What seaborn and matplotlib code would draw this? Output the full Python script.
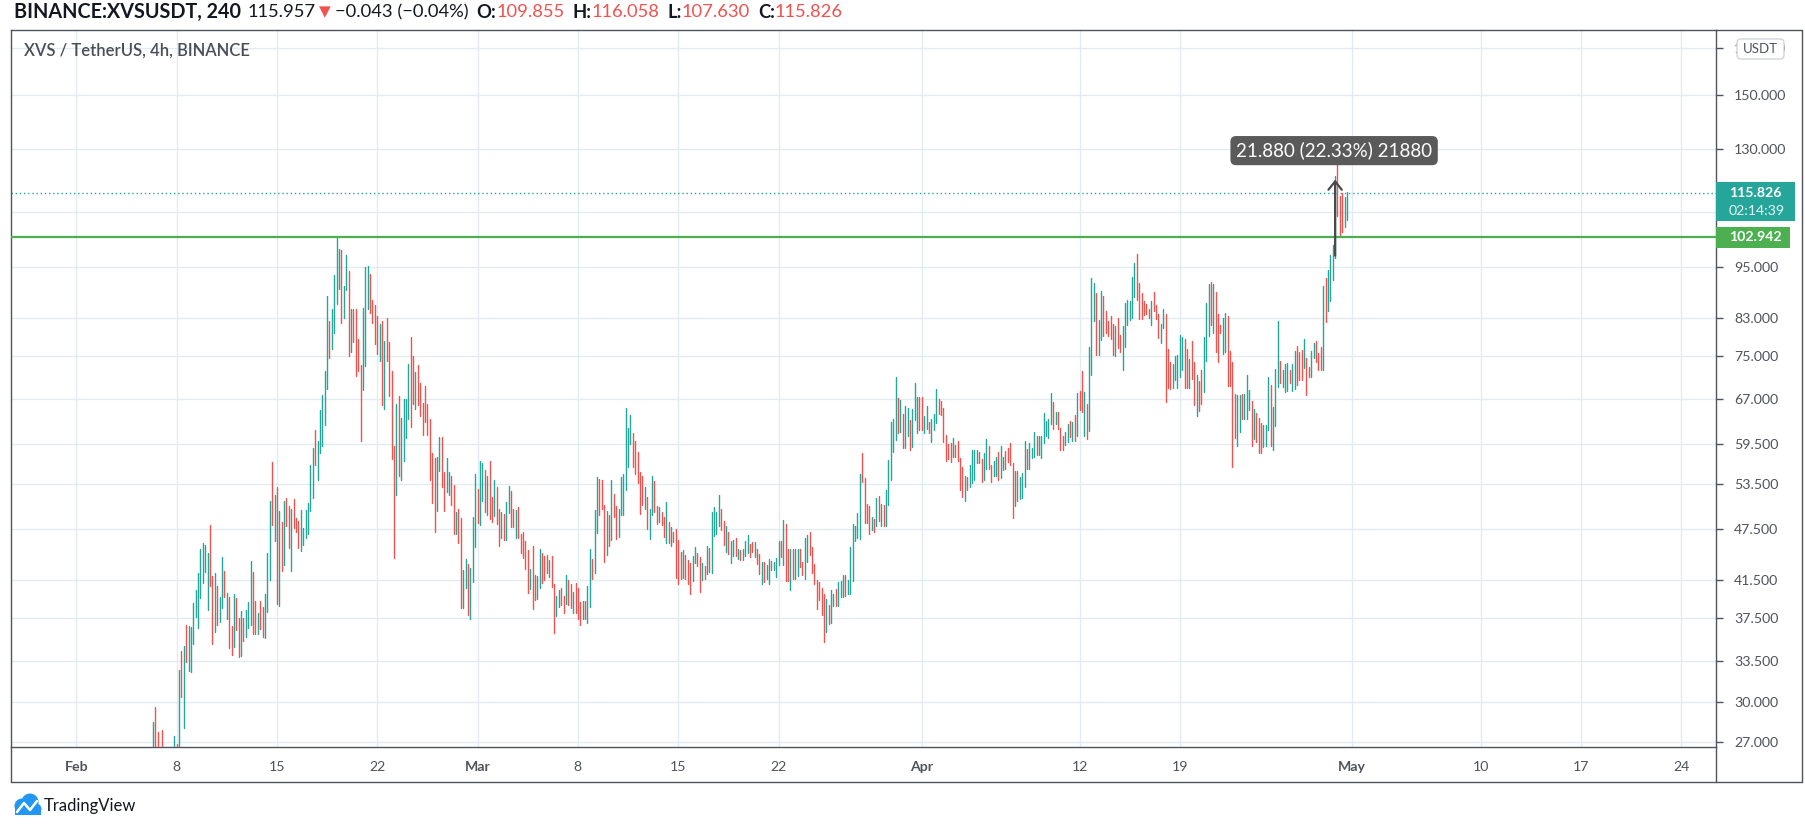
import numpy as np
import pandas as pd
import matplotlib
matplotlib.use("Agg")
import matplotlib.pyplot as plt
from matplotlib.patches import Rectangle, FancyBboxPatch, Circle
from matplotlib.lines import Line2D
from matplotlib.ticker import FixedLocator, FuncFormatter, NullLocator
from matplotlib.transforms import IdentityTransform
import seaborn as sns

nan = float("nan")

# ---------------- data (4h bars) ----------------
FIRST_BAR = "2021-02-06 08:00"
BAR_FREQ = "4h"

seg1_high = [28.5, 29.6, 27.7, nan, 27.9, nan, nan, nan, nan, 27.4, 26.85,
             32.7, 34.4, 34.8, 36.8, 36.7, 36.6, 39.0, 40.4, 42.3, 45.0,
             45.7, 45.5, 44.6, 48.0, 41.9, 42.3, 40.8, 39.6, 44.1, 42.5,
             40.1, 39.6, 36.7, 40.0, 39.5, 37.5, 38.2, 37.5, 38.3, 39.1,
             43.6, 42.4, 39.2, 38.0, 39.2, 38.6, 40.0, 44.5, 51.1, 56.7,
             52.0, 53.1, 49.8, 48.4, 51.1, 51.6, 50.5, 50.1, 51.4, 48.9,
             48.5, 49.9, 47.6, 49.9, 50.8, 56.3, 58.8, 61.8, 59.9, 65.1,
             67.7, 72.2, 88.1, 82.4, 85.1, 93.1, 102.9, 99.8, 99.4, 90.4,
             98.1, 94.1, 85.1, 85.1, 85.1, 78.6, 73.3, 85.2, 95.0, 95.4,
             93.3, 87.1, 86.0, 83.4, 81.7, 82.5, 78.2, 83.0, 78.0]
seg1_low = [26.3, 26.0, 26.0, nan, 25.5, nan, nan, nan, nan, 25.5, 25.0,
            26.5, 30.4, 28.0, 33.4, 32.6, 32.5, 35.0, 37.6, 36.5, 39.5,
            41.1, 42.4, 38.3, 40.8, 35.0, 36.1, 36.8, 37.1, 38.5, 39.6,
            37.4, 34.6, 34.0, 34.7, 36.3, 33.8, 33.9, 35.3, 35.7, 36.5,
            36.8, 35.9, 35.9, 35.9, 36.4, 35.7, 35.6, 38.1, 41.5, 48.0,
            46.0, 38.9, 38.7, 42.5, 43.2, 47.9, 45.2, 42.5, 47.6, 47.1,
            45.2, 44.8, 45.5, 46.3, 46.8, 49.8, 51.5, 56.2, 54.1, 58.0,
            59.2, 62.6, 68.9, 74.8, 76.6, 79.9, 86.1, 89.8, 82.0, 83.0,
            89.5, 75.1, 75.9, 78.0, 71.3, 72.1, 60.0, 68.7, 73.2, 85.1,
            84.1, 82.0, 77.5, 75.5, 74.2, 66.0, 65.2, 74.2, 67.6]
seg1_dir = ("grrgrgggggr" "grgrgggggg" "gggrrgrggr" "grrgrrgrgg" "grrgrrgggr"
            "grgrgrrgrr" "rggggggrgg" "gggrggggrg" "grgrrrrggg" "rrrrgrgrr")

seg2_high = [72.2, 59.2, 66.2, 67.5, 63.8, 67.0, 67.0, 73.6, 78.9, 75.1,
             71.9, 73.3, 69.9, 66.3, 69.4, 66.2, 63.6, 58.1, 57.3, 57.5,
             60.6, 60.6, 55.2, 57.3, 55.2, 54.7, 53.4, 49.6, 50.1, 48.9,
             42.6, 43.8, 43.3, 42.8, 49.0, 55.0, 52.8, 56.9, 56.6, 55.5,
             54.6, 56.9, 51.7, 54.0, 53.0, 50.0, 49.7, 49.4, 51.0, 53.2,
             52.5, 50.1, 49.9, 50.3, 46.8, 47.1, 46.0, 44.9, 42.7, 45.4,
             42.0, 41.9, 45.0, 44.6, 44.2, 44.3, 43.7, 44.2, 41.0, 39.8,
             40.4, 40.6, 39.7, 42.0, 41.5, 41.0, 40.2, 41.1, 40.6, 39.1,
             39.2, 39.2, 40.8, 45.0, 43.9, 49.9, 54.5, 54.2, 54.1, 50.6,
             49.8, 49.3, 54.1, 52.1, 50.5, 50.0, 54.5, 55.0, 65.5, 62.1,
             64.2, 61.2, 60.0, 58.2, 55.2, 54.7, 53.0, 51.7]
seg2_low = [57.2, 44.0, 52.0, 54.6, 54.0, 56.8, 60.5, 63.6, 62.2, 66.2,
            65.2, 65.9, 64.1, 60.9, 63.0, 60.9, 54.0, 50.9, 47.1, 49.8,
            55.4, 53.1, 49.8, 52.4, 52.0, 50.6, 46.8, 46.8, 45.7, 38.5,
            38.5, 40.6, 37.8, 37.4, 41.3, 45.3, 48.2, 48.0, 51.1, 49.6,
            49.3, 48.8, 48.4, 49.2, 48.1, 45.4, 46.4, 46.1, 46.1, 49.5,
            47.7, 47.7, 46.4, 46.4, 44.5, 44.0, 42.7, 40.1, 40.5, 38.4,
            39.3, 39.4, 40.6, 41.2, 41.5, 42.3, 41.8, 40.7, 36.0, 37.7,
            38.6, 38.8, 38.0, 38.9, 38.8, 38.5, 38.0, 38.0, 37.4, 36.8,
            37.4, 37.4, 37.0, 38.6, 41.6, 42.3, 47.0, 49.3, 50.0, 43.5,
            44.3, 45.4, 46.1, 49.0, 46.2, 46.5, 49.3, 49.3, 52.7, 56.0,
            59.4, 56.0, 55.0, 53.7, 49.4, 50.6, 50.0, 47.5]
seg2_dir = ("rrgrggggrr" "grrrrrrrrg" "grrggrrgrr" "ggrgggrggr" "grrgrrgrgg"
            "rrgrrrrrgr" "rggrrrgrrg" "grrgrrgrrr" "grggrggrrr" "grgrrggggg"
            "grrrrrgr")

seg3_high = [50.0, 54.7, 53.9, 50.4, 50.3, 49.7, 49.0, 51.0, 48.4, 47.7,
             47.1, 47.5, 46.1, 44.7, 44.9, 44.3, 43.7, 43.4, 44.2, 45.3,
             44.5, 44.1, 43.4, 43.0, 45.4, 45.2, 49.7, 50.3, 49.6, 51.9,
             50.1, 48.5, 47.9, 47.1, 46.0, 46.1, 46.4, 45.0, 44.9, 45.0,
             46.0, 46.7, 45.6, 45.9, 45.9, 45.0, 44.4, 43.5, 43.5, 43.1,
             43.8, 43.6, 43.5, 44.0, 46.0, 46.0, 48.6, 48.1, 45.0, 45.0,
             45.0, 45.0, 45.0, 45.0, 43.5, 46.3, 46.7, 47.1, 45.3, 43.3,
             41.5, 41.3, 40.6, 40.0, 39.4, 38.8, 40.4, 40.0, 40.5, 41.3,
             41.4, 42.0, 42.0, 41.5, 45.3, 48.1, 47.8, 49.5, 55.0, 58.0,
             54.4, 50.7, 50.5, 49.0, 48.8, 51.5, 51.8, 50.7, 50.6, 52.6,
             57.0, 63.1, 63.5, 71.0]
seg3_low = [46.2, 49.3, 49.7, 48.1, 48.4, 48.0, 46.5, 45.7, 45.7, 45.4,
            45.9, 41.7, 41.0, 41.6, 41.7, 41.6, 41.0, 40.0, 41.4, 43.4,
            43.0, 40.2, 41.5, 41.6, 42.1, 42.4, 42.2, 46.6, 46.8, 47.9,
            47.4, 45.5, 44.7, 44.4, 43.4, 44.2, 44.2, 43.8, 43.7, 43.7,
            44.2, 44.6, 44.1, 44.7, 44.1, 43.3, 42.1, 41.0, 41.3, 41.6,
            41.0, 42.6, 42.6, 41.8, 43.1, 44.1, 43.1, 41.4, 41.4, 40.4,
            41.6, 41.6, 41.9, 42.9, 42.0, 41.6, 43.5, 44.3, 42.2, 41.0,
            38.4, 39.3, 37.8, 35.2, 36.1, 36.9, 37.0, 38.7, 38.7, 38.7,
            39.6, 39.6, 39.8, 40.0, 40.0, 41.4, 46.0, 46.3, 46.2, 53.8,
            48.3, 48.3, 46.8, 47.3, 47.1, 47.9, 48.5, 47.8, 47.8, 47.8,
            50.6, 54.0, 58.3, 60.1]
seg3_dir = ("ggrrgrrgrg" "rrrrgrrrgg" "rrgrgrgggg" "rrgrggrgrg" "ggrrgrrgrg"
            "grgggrgrrg" "rggrrggrrr" "rrrrgrggrg" "ggrggggggr" "rrrgrgrgrg"
            "gggg")

seg4_high = [67.1, 66.8, 64.4, 65.7, 65.4, 63.3, 65.3, 70.0, 67.4, 67.4,
             67.4, 64.0, 65.8, 63.1, 63.6, 64.4, 68.9, 67.0, 66.7, 65.4,
             60.9, 59.4, 59.7, 60.4, 59.3, 59.9, 57.3, 56.0, 54.6, 54.5,
             56.3, 58.6, 58.6, 58.6, 58.3, 57.2, 58.0, 60.3, 59.2, 56.2,
             56.9, 57.5, 58.3, 59.2, 57.5, 58.4, 58.8, 59.6, 56.6, 55.3,
             55.3, 54.5, 55.1, 60.0, 58.7, 59.6, 58.9, 61.4, 60.8, 60.7,
             60.8, 64.5, 63.2, 63.6, 68.0, 66.5, 64.8, 64.8, 62.0, 60.7,
             61.4, 62.7, 63.2, 63.1, 64.2, 68.1, 68.4, 72.1, 68.2, 66.2,
             76.9, 92.3, 91.2, 88.7, 82.7, 89.3, 88.1, 84.7, 82.4, 83.4,
             81.7, 81.3, 83.0, 79.5, 81.3, 86.4, 87.1, 86.8, 92.6, 96.2,
             98.5, 91.2, 88.7, 86.9, 86.2, 85.0, 86.8, 89.1, 86.0, 84.0]
seg4_low = [61.3, 61.4, 58.8, 58.8, 60.7, 58.5, 59.0, 63.3, 61.2, 61.8,
            61.7, 61.3, 61.9, 61.2, 59.8, 61.7, 62.9, 64.4, 64.3, 59.8,
            56.8, 57.2, 56.7, 57.5, 57.5, 56.9, 52.7, 51.7, 51.1, 52.7,
            53.0, 53.6, 54.0, 56.5, 56.5, 53.8, 54.0, 55.7, 55.6, 53.8,
            54.6, 54.7, 54.0, 54.4, 55.5, 55.6, 56.7, 56.2, 48.9, 50.5,
            51.1, 51.4, 51.5, 53.0, 55.6, 55.7, 57.3, 57.5, 57.8, 57.7,
            57.3, 59.6, 60.8, 60.4, 62.7, 61.9, 62.7, 61.9, 58.6, 58.5,
            59.3, 59.8, 60.6, 59.9, 60.0, 60.7, 65.0, 64.8, 60.8, 60.3,
            61.5, 71.5, 82.3, 75.2, 75.3, 78.4, 79.2, 79.9, 79.1, 78.5,
            75.3, 75.0, 76.8, 75.9, 72.3, 77.0, 81.5, 82.6, 83.0, 87.9,
            87.1, 82.8, 82.8, 83.8, 83.9, 83.0, 81.6, 84.7, 82.8, 78.8]
seg4_dir = ("rgrggrgggr" "rggrgggrrr" "rrrgrrrrgr" "ggggrrggrr" "ggrggrrrrg"
            "rgggrgggrg" "gggggrgrrr" "ggrgrgrrgr" "gggrggrrrr" "rgrrgggggg"
            "rrrrrrgrrr")

seg5_high = [81.8, 85.0, 84.0, 76.5, 74.0, 73.6, 75.0, 75.2, 79.3, 79.0,
             78.5, 76.5, 74.6, 78.1, 73.9, 71.5, 70.2, 72.4, 79.0, 86.5,
             91.0, 91.3, 90.9, 89.0, 84.0, 81.5, 83.1, 84.2, 83.6, 76.1,
             74.0, 67.9, 67.8, 67.7, 67.9, 67.9, 71.5, 68.6, 66.7, 65.2,
             64.5, 63.7, 62.9, 62.5, 62.5, 71.0, 69.6, 65.6, 72.6, 82.4,
             74.1, 72.4, 73.5, 73.7, 72.4, 73.5, 76.1, 77.2, 75.8, 76.3,
             78.5, 74.7, 73.0, 76.1, 77.7, 78.2, 75.6, 77.0, 90.4, 92.3,
             94.4, 98.2, 100.8, 121.0, 126.0, 114.8, 115.8, 114.5, 116.058]
seg5_low = [77.7, 80.9, 66.5, 69.0, 68.9, 69.0, 70.5, 69.0, 71.0, 72.4,
            69.0, 69.0, 69.0, 70.6, 65.9, 64.1, 64.9, 66.2, 68.2, 74.1,
            79.2, 81.6, 79.8, 75.8, 74.0, 79.8, 75.4, 75.8, 69.3, 69.3,
            55.9, 60.4, 59.1, 61.4, 63.6, 63.5, 63.5, 65.1, 59.1, 60.3,
            59.8, 58.0, 58.0, 59.0, 59.1, 61.8, 59.1, 58.6, 62.4, 69.1,
            69.9, 69.1, 68.2, 68.4, 69.9, 68.4, 68.9, 69.6, 70.5, 70.5,
            72.7, 67.8, 71.0, 71.0, 74.7, 74.0, 72.3, 72.3, 72.3, 82.2,
            84.6, 86.8, 91.8, 97.5, 108.7, 103.3, 104.2, 105.7, 107.63]
seg5_dir = ("ggrrrggggg" "rrgrrgrrgg" "grgrrrggrr" "rrggrgggrg" "rrrgggrggg"
            "rgggrggrrr" "grrggrrrgr" "ggggrrrgg")

# annotations / labels
ticker_label = "BINANCE:XVSUSDT, 240"
last_value = "115.957"
change_label = "\u22120.043 (\u22120.04%)"
ohlc_labels = ["O", "H", "L", "C"]
ohlc_values = [109.855, 116.058, 107.630, 115.826]
pane_title = "XVS / TetherUS, 4h, BINANCE"
LAST_PRICE = 115.826
COUNTDOWN = "02:14:39"
LEVEL = 102.942
MEASURE_TIME = "2021-04-29 20:00"
MEASURE_FROM = 97.98
MEASURE_TO = 119.86
MEASURE_LABEL = "21.880 (22.33%) 21880"
price_ticks = [27, 30, 33.5, 37.5, 41.5, 47.5, 53.5, 59.5, 67, 75, 83, 95,
               110, 130, 150, 170]
hidden_price_labels = {110}          # covered by the last-price badge
date_ticks = ["2021-02-01", "2021-02-08", "2021-02-15", "2021-02-22",
              "2021-03-01", "2021-03-08", "2021-03-15", "2021-03-22",
              "2021-04-01", "2021-04-12", "2021-04-19", "2021-05-01",
              "2021-05-10", "2021-05-17", "2021-05-24"]
date_labels = ["Feb", "8", "15", "22", "Mar", "8", "15", "22", "Apr", "12",
               "19", "May", "10", "17", "24"]
month_labels = {"Feb", "Mar", "Apr", "May"}
X_START = "2021-01-27 10:40"
X_END = "2021-05-26 09:50"
Y_MIN, Y_MAX = 26.64, 178.2

# ---------------- style ----------------
GREEN = "#26a69a"
RED = "#ef5350"
LEVEL_GREEN = "#4caf50"
AXIS = "#50535e"
TEXT = "#50535e"
DARK = "#131722"
GRID = "#e1ebf2"

W, H = 1805, 826
sns.set_theme(style="white")
plt.rcParams["font.family"] = ["Lato", "DejaVu Sans"]
plt.rcParams["axes.unicode_minus"] = True

fig = plt.figure(figsize=(W / 100, H / 100), dpi=100)
fig.patch.set_facecolor("white")
PL, PR, PT, PB = 11, 1716, 30, 747
ax = fig.add_axes([PL / W, 1 - PB / H, (PR - PL) / W, (PB - PT) / H])
ax.set_facecolor("white")
ax.set_yscale("log")

high = seg1_high + seg2_high + seg3_high + seg4_high + seg5_high
low = seg1_low + seg2_low + seg3_low + seg4_low + seg5_low
dirs = list(seg1_dir + seg2_dir + seg3_dir + seg4_dir + seg5_dir)
times = pd.date_range(FIRST_BAR, periods=len(high), freq=BAR_FREQ)
bars = pd.DataFrame({"time": times, "high": high, "low": low, "dir": dirs,
                     "bar": np.arange(len(high))}).dropna()
long = bars.melt(id_vars=["time", "dir", "bar"], value_vars=["low", "high"],
                 var_name="end", value_name="price")

sns.lineplot(data=long, x="time", y="price", units="bar", estimator=None,
             hue="dir", palette={"g": GREEN, "r": RED}, legend=False,
             linewidth=1.0, sort=False, ax=ax, zorder=3)

ax.set_xlabel("")
ax.set_ylabel("")
ax.set_xlim(pd.Timestamp(X_START), pd.Timestamp(X_END))
ax.set_ylim(Y_MIN, Y_MAX)

# y axis
ax.yaxis.set_major_locator(FixedLocator(price_ticks))
ax.yaxis.set_minor_locator(NullLocator())
ax.yaxis.set_major_formatter(FuncFormatter(
    lambda v, p: "" if round(v, 3) in hidden_price_labels else f"{v:.3f}"))
ax.yaxis.tick_right()
ax.tick_params(axis="y", which="major", direction="out", length=5, width=1,
               color=AXIS, labelcolor=TEXT, labelsize=10.2, pad=8)
# x axis
ax.set_xticks(pd.to_datetime(date_ticks))
ax.set_xticklabels(date_labels)
ax.tick_params(axis="x", which="major", direction="out", length=5, width=1,
               color=AXIS, labelcolor=TEXT, labelsize=10.2, pad=5)
ax.tick_params(axis="x", which="minor", length=0)
for lbl in ax.get_xticklabels():
    if lbl.get_text() in month_labels:
        lbl.set_fontweight("bold")

ax.grid(True, which="major", color=GRID, linewidth=1)
ax.set_axisbelow(True)
for s in ax.spines.values():
    s.set_visible(True)
    s.set_color(AXIS)
    s.set_linewidth(1)

# horizontal level and last price
ax.axhline(LEVEL, color=LEVEL_GREEN, linewidth=1.6, zorder=4)
ax.axhline(LAST_PRICE, color=GREEN, linewidth=1, linestyle=(0, (1, 2)), zorder=2)

# measure tool
mt = pd.Timestamp(MEASURE_TIME)
ax.annotate("", xy=(mt, MEASURE_TO), xytext=(mt, MEASURE_FROM),
            arrowprops=dict(arrowstyle="->,head_length=0.5,head_width=0.4",
                            color="#4a4a4a", lw=1.6, shrinkA=0, shrinkB=0),
            zorder=6)
ax.annotate(MEASURE_LABEL, xy=(mt, MEASURE_TO), xytext=(-1, 29),
            textcoords="offset pixels", ha="center", va="center",
            color="white", fontsize=13.5, zorder=7, annotation_clip=False,
            bbox=dict(boxstyle="round,pad=0.3,rounding_size=0.3",
                      fc="#5a5a5a", ec="none"))

# ---------------- frame lines around axis areas ----------------
ID = IdentityTransform()


def fline(x1, y1, x2, y2, **kw):
    fig.add_artist(Line2D([x1, x2], [H - y1, H - y2], transform=ID,
                          color=AXIS, linewidth=1, **kw))


fline(PR, PT, 1802, PT)
fline(1802, PT, 1802, 782)
fline(PL, 782, 1802, 782)
fline(PL, PB, PL, 782)
fline(PR, PB, PR, 782)

# ---------------- price badges ----------------
fig.canvas.draw()
renderer = fig.canvas.get_renderer()
x0 = ax.get_xlim()[0]


def ypix(price):
    return ax.transData.transform((x0, price))[1]


py = ypix(LAST_PRICE)
fig.add_artist(Rectangle((PR, py - 28.3), 79, 39.3, transform=ID,
                         facecolor=GREEN, edgecolor="none", zorder=10))
fig.text(1729, py, f"{LAST_PRICE:.3f}", transform=ID, color="white",
         fontsize=10.2, fontweight="bold", va="center", ha="left", zorder=11)
fig.text(1729, py - 18, COUNTDOWN, transform=ID, color="#e6f5f3",
         fontsize=10.2, va="center", ha="left", zorder=11)

pl = ypix(LEVEL)
fig.add_artist(Rectangle((PR, pl - 10.5), 74, 20.5, transform=ID,
                         facecolor=LEVEL_GREEN, edgecolor="none", zorder=10))
fig.text(1729, pl, f"{LEVEL:.3f}", transform=ID, color="white",
         fontsize=10.2, fontweight="bold", va="center", ha="left", zorder=11)

fig.add_artist(FancyBboxPatch((1737, H - 59), 47, 20, transform=ID,
                              boxstyle="round,pad=0,rounding_size=4",
                              facecolor="white", edgecolor="#d1d4dc",
                              linewidth=1, zorder=10))
fig.text(1760.5, H - 49, "USDT", transform=ID, color=TEXT, fontsize=9.5,
         va="center", ha="center", zorder=11)

# ---------------- header (laid out left to right) ----------------
HEADER_SIZE = 13.2
HEADER_Y = H - 12


def put(x, s, color, weight="normal", size=HEADER_SIZE, family=None):
    kw = {} if family is None else {"family": family}
    t = fig.text(x, HEADER_Y, s, transform=ID, color=color, fontsize=size,
                 fontweight=weight, va="center", ha="left", **kw)
    return t.get_window_extent(renderer).x1


x = put(14, ticker_label, DARK, "bold", size=14.2)
x = put(x + 7, last_value, DARK)
x = put(x + 3, "\u25bc", RED, size=11, family=["DejaVu Sans"])
x = put(x + 4, change_label, DARK)
for lab, val in zip(ohlc_labels, ohlc_values):
    x = put(x + 8, lab + ":", DARK, "bold")
    x = put(x, f"{val:.3f}", RED)

fig.text(24.5, H - 50.6, pane_title, transform=ID, color="#4a4e59",
         fontsize=12, fontweight="semibold", va="center", ha="left")

# ---------------- TradingView logo ----------------
LOGO_BLUE = "#2196f3"
fig.add_artist(Circle((22, H - 806), 7.5, transform=ID, facecolor=LOGO_BLUE,
                      edgecolor="none"))
fig.add_artist(Circle((30, H - 802), 8.5, transform=ID, facecolor=LOGO_BLUE,
                      edgecolor="none"))
fig.add_artist(Circle((36, H - 809), 5.5, transform=ID, facecolor=LOGO_BLUE,
                      edgecolor="none"))
fig.add_artist(Rectangle((15, H - 815), 26, 8, transform=ID,
                         facecolor=LOGO_BLUE, edgecolor="none"))
fig.add_artist(Line2D([17, 24, 30, 37], [H - 812, H - 803, H - 810, H - 801],
                      transform=ID, color="white", linewidth=1.8))
fig.text(44, H - 806, "TradingView", transform=ID, color=DARK, fontsize=12,
         va="center", ha="left")

fig.savefig("out.png", dpi=100, facecolor="white")
